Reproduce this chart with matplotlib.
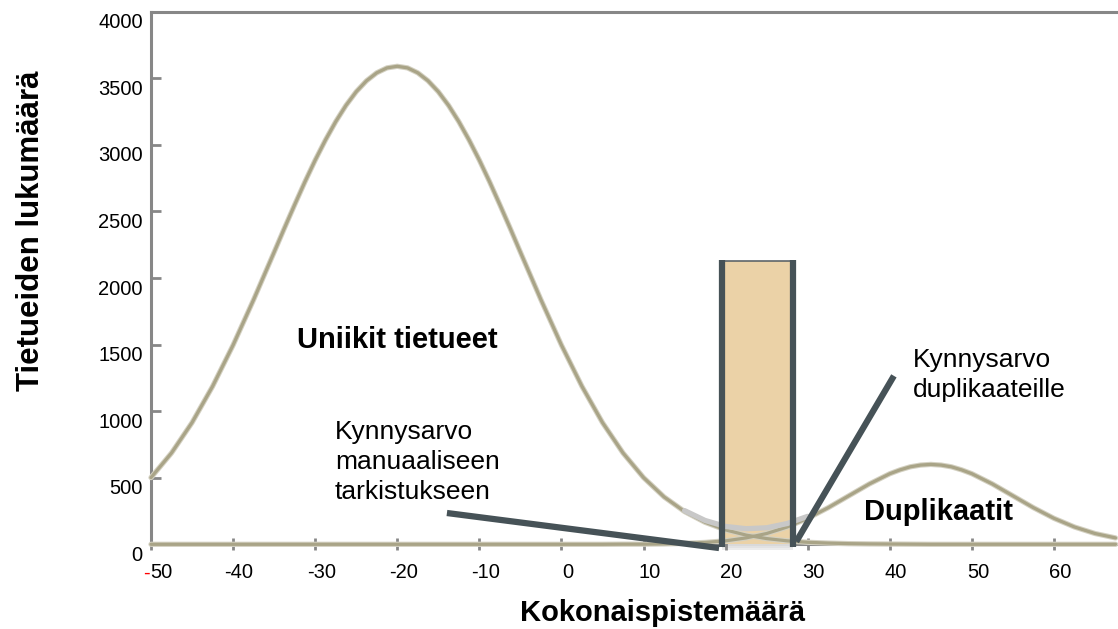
import matplotlib
matplotlib.use('Agg')
import matplotlib.pyplot as plt
from matplotlib.patches import Rectangle
from matplotlib.transforms import ScaledTranslation

plt.rcParams['font.family'] = ['Liberation Sans', 'DejaVu Sans']

# ---- data ----
unique_score = [-50, -47.5, -45, -42.5, -40, -37.5, -35, -33.75, -32.5, -31.25, -30, -28.75,
                -27.5, -26.25, -25, -23.75, -22.5, -21.25, -20, -18.75, -17.5, -16.25, -15,
                -13.75, -12.5, -11.25, -10, -8.75, -7.5, -6.25, -5, -2.5, 0, 2.5, 5, 7.5,
                10, 12.5, 15, 17.5, 20, 22.5, 25, 27.5, 30, 32.5, 35, 37.5, 40, 42.5, 45,
                55, 67.5]
unique_counts = [501, 686, 914, 1186, 1496, 1837, 2194, 2374, 2550, 2722, 2885, 3036,
                 3174, 3296, 3399, 3481, 3541, 3578, 3590, 3578, 3541, 3481, 3399,
                 3296, 3174, 3036, 2885, 2722, 2550, 2374, 2194, 1837, 1496, 1186, 914, 686,
                 501, 356, 246, 165, 108, 69, 43, 26, 15, 9, 5, 3, 2, 1, 0,
                 0, 0]
dup_score = [-50, 0, 5, 7.5, 10, 12.5, 15, 17.5, 20, 22.5, 25, 27.5, 30, 32.5, 35, 37.5,
             40, 41.25, 42.5, 43.75, 45, 46.25, 47.5, 48.75, 50, 52.5, 55, 57.5, 60,
             62.5, 65, 67.5]
dup_counts = [0, 0, 0, 1, 1, 3, 7, 14, 26, 48, 81, 130, 195, 275, 364, 453,
              530, 559, 582, 595, 600, 595, 582, 559, 530, 453, 364, 275, 195,
              130, 81, 48]
review_zone = [19.5, 28.2]      # manual review band (score range)
review_zone_height = 2130
x_ticks = [-50, -40, -30, -20, -10, 0, 10, 20, 30, 40, 50, 60]
x_tick_labels = ['', '-40', '-30', '-20', '-10', '0', '10', '20', '30', '40', '50', '60']
y_ticks = [0, 500, 1000, 1500, 2000, 2500, 3000, 3500, 4000]
y_tick_labels = ['0', '500', '1000', '1500', '2000', '2500', '3000', '3500', '4000']

W, H = 1118, 629
fig = plt.figure(figsize=(W / 100, H / 100), dpi=100)
ax = fig.add_axes([151 / W, 84.7 / H, 1 - 151 / W, (617.3 - 84.7) / H])
ax.set_xlim(-50, 67.8)
ax.set_ylim(0, 4000)

axis_grey = '#878787'
tan = '#A9A487'
tan_halo = '#D4D1C2'
slate = '#465257'

# review band
x0, x1 = review_zone
for k, c in enumerate(['#ececec', '#e2e2e2', '#d9d9d9']):
    depth = 40 - 12 * k
    ax.add_patch(Rectangle((x0, -depth), x1 - x0, depth, facecolor=c, edgecolor='none',
                           zorder=1, clip_on=False))
ax.add_patch(Rectangle((x0, 0), x1 - x0, review_zone_height, facecolor='#EBD2A7',
                       edgecolor='none', zorder=2, clip_on=False))
ax.plot([x0, x1], [review_zone_height, review_zone_height], color='#5d6569', lw=1.2,
        zorder=6, solid_capstyle='butt')

# curves
for xs, ys in ((unique_score, unique_counts), (dup_score, dup_counts)):
    ax.plot(xs, ys, color=tan_halo, lw=3.8, zorder=3, clip_on=False,
            solid_capstyle='round', solid_joinstyle='round')
    ax.plot(xs, ys, color=tan, lw=2.3, zorder=4, clip_on=False,
            solid_capstyle='round', solid_joinstyle='round')

# combined curve in overlap region
u_map = dict(zip(unique_score, unique_counts))
d_map = dict(zip(dup_score, dup_counts))
sx = [s for s in unique_score if 15 <= s <= 30 and s in d_map]
sy = [u_map[s] + d_map[s] for s in sx]
ax.plot(sx, sy, color='#C8C8C8', lw=3.8, zorder=5, solid_capstyle='round')

# vertical threshold bars
for xv in review_zone:
    ax.plot([xv, xv], [-20, review_zone_height + 5], color=slate, lw=4.5, zorder=7,
            clip_on=False, solid_capstyle='butt')

# pointer lines
ax.plot([-13.95, 19.2], [235, -28], color=slate, lw=4.5, zorder=8, clip_on=False,
        solid_capstyle='butt')
ax.plot([40.5, 28.6], [1265, 20], color=slate, lw=4.5, zorder=8, clip_on=False,
        solid_capstyle='butt')

# spines
for side in ('left', 'bottom', 'top'):
    ax.spines[side].set_color(axis_grey)
    ax.spines[side].set_linewidth(2.2)
ax.spines['right'].set_visible(False)
ax.spines['bottom'].set_zorder(0)

ax.set_xticks(x_ticks)
ax.set_xticklabels(x_tick_labels)
ax.set_yticks(y_ticks)
ax.set_yticklabels(y_tick_labels)
ax.tick_params(axis='x', direction='inout', length=8, width=2, color=axis_grey,
               labelsize=14.5, pad=9.5)
ax.tick_params(axis='y', direction='in', length=7, width=2, color=axis_grey,
               labelsize=14.5, pad=6)
for lab in ax.get_xticklabels():
    lab.set_transform(lab.get_transform() + ScaledTranslation(0.06, 0, fig.dpi_scale_trans))
for lab in ax.get_yticklabels():
    lab.set_transform(lab.get_transform() + ScaledTranslation(0, -0.09, fig.dpi_scale_trans))

# -50 label with red minus
ax.annotate('50', xy=(-50, 0), xycoords=('data', 'axes fraction'), xytext=(-0.7, -20.6),
            textcoords='offset points', ha='left', va='center', fontsize=14.5, color='black')
ax.annotate('-', xy=(-50, 0), xycoords=('data', 'axes fraction'), xytext=(-0.7, -20.6),
            textcoords='offset points', ha='right', va='center', fontsize=14.5, color='red')

# texts
ax.text(-20, 1532, 'Uniikit tietueet', ha='center', va='center', fontsize=21,
        fontweight='bold', zorder=10)
ax.text(-27.6, 617, 'Kynnysarvo\nmanuaaliseen\ntarkistukseen', ha='left', va='center',
        fontsize=19, zorder=10, linespacing=1.3)
ax.text(42.8, 1270, 'Kynnysarvo\nduplikaateille', ha='left', va='center', fontsize=19,
        zorder=10, linespacing=1.3)
ax.text(45.9, 240, 'Duplikaatit', ha='center', va='center', fontsize=21,
        fontweight='bold', zorder=10)

fig.text(31 / W, 1 - 231 / H, 'Tietueiden lukumäärä', rotation=90, ha='center',
         va='center', fontsize=22.5, fontweight='bold')
fig.text(663 / W, 1 - 613 / H, 'Kokonaispistemäärä', ha='center', va='center',
         fontsize=21, fontweight='bold')

fig.savefig('out.png', dpi=100)
